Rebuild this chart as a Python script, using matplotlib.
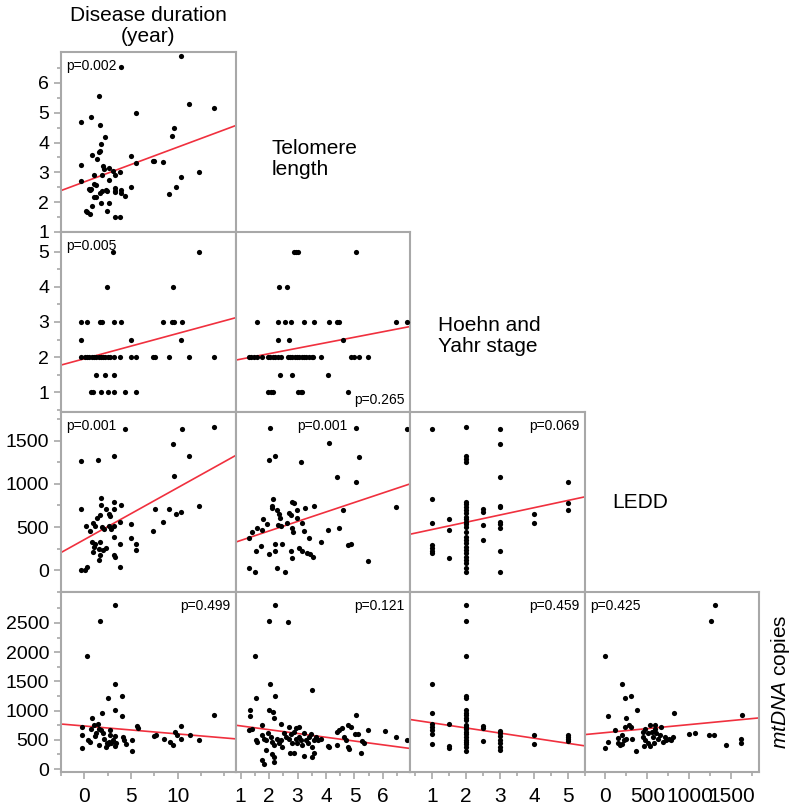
import numpy as np
import matplotlib.pyplot as plt

plt.rcParams['font.family'] = ['Liberation Sans', 'DejaVu Sans']
plt.rcParams['mathtext.fontset'] = 'custom'
plt.rcParams['mathtext.it'] = 'Liberation Sans:italic'
plt.rcParams['mathtext.rm'] = 'Liberation Sans'

# ---- data ----
# disease duration vs telomere length
dur_tel_x = [4.04, 10.4, 1.74, -0.2, 0.92, 1.8, 5.64, 11.3, 13.9, 9.65, 9.5, 2.4, 1.9, 1.7, 1.8,
             -0.2, 1.0, 1.5, 5.1, 5.7, 7.5, 7.6, 8.55, 12.3, 10.4, 9.9, 9.2, 2.2, 2.3, 2.8, 3.2,
             3.4, 4.0, 1.2, 2.0, 2.8, -0.2, 1.2, 1.4, 0.7, 0.85, 2.0, 2.5, 3.4, 3.4, 4.1, 5.1,
             0.75, 1.8, 2.6, 3.4, 4.1, 4.5, 1.2, 1.4, 1.95, 2.75, 0.95, 2.55, 0.35, 0.5, 0.8,
             3.4, 4.0]
dur_tel_y = [6.55, 6.92, 5.56, 4.70, 4.87, 4.59, 5.0, 5.28, 5.15, 4.5, 4.22, 4.2, 3.95, 3.7, 3.72,
             3.26, 3.57, 3.44, 3.55, 3.3, 3.37, 3.38, 3.36, 3.0, 2.86, 2.52, 2.27, 3.2, 3.1, 3.15, 3.05,
             2.9, 3.0, 2.92, 2.92, 2.75, 2.7, 2.6, 2.58, 2.45, 2.44, 2.37, 2.42, 2.47, 2.37, 2.4, 2.5,
             2.4, 2.3, 2.36, 2.33, 2.3, 2.2, 2.16, 2.17, 1.97, 1.97, 1.88, 1.71, 1.71, 1.66, 1.59,
             1.49, 1.49]

# disease duration vs Hoehn and Yahr
dur_hy_x = [3.2, 12.3, 2.6, 9.6, -0.2, 0.45, 1.8, 2.0, 3.3, 4.1, 8.55, 9.5, 9.7, 10.5,
            -0.2, 5.1, 10.4,
            -0.2, 0.2, 0.45, 0.7, 0.95, 1.2, 1.4, 1.7, 1.9, 2.2, 2.4, 2.7, 2.9, 3.3, 4.0, 5.1, 5.6,
            7.5, 7.7, 9.2, 11.3, 13.9,
            1.45, 2.4, 3.3,
            0.85, 1.1, 1.9, 2.7, 3.3, 4.5, 5.7]
dur_hy_y = [5, 5, 4, 4, 3, 3, 3, 3, 3, 3, 3, 3, 3, 3,
            2.5, 2.5, 2.5,
            2, 2, 2, 2, 2, 2, 2, 2, 2, 2, 2, 2, 2, 2, 2, 2, 2,
            2, 2, 2, 2, 2,
            1.5, 1.5, 1.5,
            1, 1, 1, 1, 1, 1, 1]

# telomere length vs Hoehn and Yahr
tel_hy_x = [2.86, 2.94, 3.02, 5.05, 2.35, 2.64,
            1.56, 2.31, 2.55, 2.78, 3.23, 3.58, 4.11, 4.38, 4.47, 6.46, 6.85,
            2.33, 2.71, 4.58,
            1.29, 1.38, 1.47, 1.56, 1.76, 1.96, 2.03, 2.12, 2.2, 2.31, 2.41, 2.67, 2.74, 2.82,
            2.9, 2.97, 3.05, 3.14, 3.23, 3.31, 3.4, 3.49, 3.56, 3.82, 4.87, 4.99, 5.17, 5.46,
            2.38, 2.8, 4.07,
            1.97, 2.06, 2.14, 3.03, 3.11, 3.17, 4.76]
tel_hy_y = [5, 5, 5, 5, 4, 4,
            3, 3, 3, 3, 3, 3, 3, 3, 3, 3, 3,
            2.5, 2.5, 2.5,
            2, 2, 2, 2, 2, 2, 2, 2, 2, 2, 2, 2, 2, 2,
            2, 2, 2, 2, 2, 2, 2, 2, 2, 2, 2, 2, 2, 2,
            1.5, 1.5, 1.5,
            1, 1, 1, 1, 1, 1, 1]

# disease duration vs LEDD
dur_ledd_x = [4.47, 10.5, 13.9, 9.54, -0.2, 1.63, 3.33, 11.3, 9.68, -0.2, 1.9, 1.9, 3.3, 4.1,
              2.5, 2.8, 2.85, 3.3, 1.85, 1.5, 1.1, 1.3, 0.4, 0.75, 2.0, 2.3, 2.8, 3.0, 3.3, 4.0,
              5.1, 7.65, 9.2, 10.4, 9.9, 8.55, 7.5, 12.3, 1.0, 1.3, 1.15, 1.1, 1.85, 1.7, 1.85,
              1.75, 2.1, 2.5, 3.3, 3.3, 3.4, 4.0, 5.1, 5.6, 5.7, 4.0, -0.2, 0.2, 0.5]
dur_ledd_y = [1636, 1636, 1651, 1465, 1262, 1281, 1327, 1319, 1091, 709, 835, 754, 793, 754,
              709, 650, 625, 709, 640, 610, 553, 515, 515, 457, 496, 473, 515, 477, 515, 557,
              534, 713, 713, 679, 648, 557, 457, 747, 324, 305, 267, 210, 331, 248, 172,
              115, 240, 255, 385, 183, 157, 305, 374, 305, 240, 38, 0, 0, 38]

# telomere length vs LEDD
tel_ledd_x = [2.03, 5.05, 6.85, 4.09, 2.0, 2.21, 3.11, 5.17, 4.38, 5.05, 6.46, 2.14, 2.09, 2.11,
              2.82, 2.88, 2.27, 2.35, 2.39, 2.7, 2.76, 2.99, 3.25, 3.58, 4.58, 1.8, 1.56, 1.41,
              1.76, 1.94, 2.31, 2.41, 2.62, 2.82, 2.85, 2.99, 3.17, 3.23, 3.41, 3.82, 4.07, 4.46,
              1.29, 1.73, 1.53, 2.0, 2.21, 2.44, 2.21, 2.76, 2.8, 3.05, 3.17, 3.32, 3.44, 3.55,
              4.76, 4.87, 5.46, 1.29, 1.49, 2.27, 2.55]
tel_ledd_y = [1644, 1652, 1636, 1472, 1282, 1327, 1263, 1320, 1091, 1026, 748, 835, 755, 729,
              797, 786, 710, 660, 614, 679, 652, 710, 729, 755, 710, 603, 507, 462,
              481, 546, 538, 527, 557, 500, 462, 614, 565, 473, 385, 340, 481, 507,
              385, 302, 240, 206, 317, 317, 240, 244, 164, 271, 240, 214, 206, 168,
              309, 317, 126, 42, 4, 42, 4]

# Hoehn and Yahr vs LEDD
hy_ledd_x = [1] * 7 + [1.5] * 3 + [2] * 26 + [2.5] * 4 + [3] * 10 + [4] * 2 + [5] * 3
hy_ledd_y = [1636, 836, 557, 309, 271, 244, 214,
             607, 481, 164,
             1655, 1327, 1293, 1263, 805, 778, 748, 710, 671, 633, 603, 576, 549, 519, 462,
             405, 366, 328, 290, 252, 214, 176, 137, 107, 42, 4,
             717, 690, 538, 366,
             1636, 1465, 1091, 759, 740, 576, 549, 507, 244, 4,
             660, 557,
             1026, 786, 710]

# disease duration vs mtDNA copies
dur_mt_x = [3.33, 1.63, 0.25, 3.33, 2.5, 4.04, 3.33, 4.04, 1.88, 0.85, 13.9, -0.2, 0.74, 1.03,
            1.46, 1.56, 1.2, 1.1, 1.81, 1.99, 2.7, 2.8, 2.16, 2.45, 3.05, 2.87, -0.2, 0.4, 0.57,
            1.56, 2.3, 2.5, 2.6, 3.4, 3.3, 3.3, 4.1, 4.2, 4.47, 5.1, 5.1, 5.64, 5.78, 7.48, 7.66,
            8.55, 9.2, 9.54, 9.68, 9.9, 10.4, 10.4, 11.3, 12.3, -0.2]
dur_mt_y = [2815, 2531, 1940, 1450, 1223, 1251, 1007, 904, 967, 876, 933, 722, 694, 751,
            768, 694, 609, 569, 665, 609, 677, 580, 523, 438, 495, 438, 580, 506, 466,
            410, 381, 421, 466, 449, 398, 563, 552, 506, 427, 495, 313, 734, 705, 563, 580,
            512, 466, 410, 637, 580, 734, 512, 580, 506, 353]

# telomere length vs mtDNA copies
tel_mt_x = [2.21, 2.0, 2.67, 1.49, 2.02, 1.54, 2.21, 3.52, 1.32, 1.32, 2.0, 2.14, 2.17, 1.39,
            1.74, 2.41, 2.7, 2.94, 3.05, 5.05, 4.76, 4.87, 4.38, 4.46, 4.56, 5.46, 6.08, 6.46,
            6.85, 1.53, 1.59, 1.76, 1.88, 1.96, 2.06, 2.11, 2.17, 2.29, 2.35, 2.41, 2.47, 2.53,
            2.58, 2.7, 2.76, 2.82, 2.88, 2.94, 2.99, 3.05, 3.11, 3.17, 3.23, 3.29, 3.35, 3.41,
            3.47, 3.52, 3.58, 3.64, 3.72, 3.82, 1.88, 2.11, 2.17, 2.73, 2.88, 3.21, 3.52, 3.58,
            1.74, 1.82, 2.17, 4.07, 4.11, 4.4, 4.64, 4.7, 4.76, 4.82, 5.01, 5.11, 5.22, 5.28,
            5.32, 1.29, 1.82]
tel_mt_y = [2815, 2531, 2525, 1940, 1456, 1223, 1251, 1359, 1007, 904, 1018, 973, 882, 688,
            751, 768, 722, 705, 722, 933, 751, 722, 637, 665, 705, 665, 648, 552,
            506, 506, 466, 580, 506, 609, 552, 466, 410, 523, 438, 495, 381, 609,
            552, 523, 597, 438, 637, 523, 438, 552, 495, 410, 609, 506, 438, 552,
            597, 381, 495, 552, 506, 523, 335, 256, 211, 279, 279, 227, 211, 267,
            154, 85, 125, 398, 381, 410, 552, 495, 381, 341, 597, 592, 267, 478,
            438, 677, 523]

# Hoehn and Yahr vs mtDNA copies
hy_mt_x = [1] * 7 + [1.5] * 3 + [2] * 21 + [2.5] * 3 + [3] * 7 + [4] * 2 + [5] * 4
hy_mt_y = [1456, 967, 779, 722, 665, 597, 427,
           768, 398, 364,
           2815, 2531, 1940, 1246, 1223, 1007, 961, 921, 882, 836, 751, 722, 682, 637, 597,
           552, 506, 461, 421, 381, 313,
           734, 705, 489,
           654, 609, 563, 506, 438, 381, 335,
           575, 421,
           586, 552, 512, 478]

# LEDD vs mtDNA copies
ledd_mt_x = [1306, 1259, 0, 193, 232, 302, 372, 813, 1624, 31, 240, 112, 232, 279, 302, 201,
             220, 155, 170, 193, 34, 0, 317, 368, 445, 472, 503, 530, 453, 472, 465, 511,
             550, 569, 589, 608, 589, 627, 647, 666, 686, 705, 724, 752, 783, 802, 996, 1065,
             1236, 1298, 1441, 1616, 1616, 530, 581, 155, 240]
ledd_mt_y = [2815, 2531, 1940, 1456, 1223, 1251, 1007, 967, 933, 904, 882, 665, 722, 751, 722, 580,
             495, 438, 410, 421, 466, 353, 523, 313, 637, 694, 609, 751, 552, 495, 398, 438,
             637, 552, 694, 609, 751, 523, 580, 722, 466, 552, 506, 523, 495, 552, 597, 625,
             580, 580, 410, 523, 438, 398, 438, 540, 523]

# fitted lines: (intercept, slope)
fit_lines = {
    (0, 0): (2.661, 0.1178),
    (1, 0): (1.938, 0.073),
    (1, 1): (1.782, 0.1566),
    (2, 0): (345, 60.6),
    (2, 1): (251, 108.8),
    (2, 2): (401, 83.6),
    (3, 0): (737, -13.57),
    (3, 1): (804, -64.9),
    (3, 2): (880, -88.1),
    (3, 3): (624, 0.1374),
}

p_values = {
    (0, 0): 'p=0.002', (1, 0): 'p=0.005', (1, 1): 'p=0.265',
    (2, 0): 'p=0.001', (2, 1): 'p=0.001', (2, 2): 'p=0.069',
    (3, 0): 'p=0.499', (3, 1): 'p=0.121', (3, 2): 'p=0.459', (3, 3): 'p=0.425',
}

panels = {
    (0, 0): (dur_tel_x, dur_tel_y),
    (1, 0): (dur_hy_x, dur_hy_y),
    (1, 1): (tel_hy_x, tel_hy_y),
    (2, 0): (dur_ledd_x, dur_ledd_y),
    (2, 1): (tel_ledd_x, tel_ledd_y),
    (2, 2): (hy_ledd_x, hy_ledd_y),
    (3, 0): (dur_mt_x, dur_mt_y),
    (3, 1): (tel_mt_x, tel_mt_y),
    (3, 2): (hy_mt_x, hy_mt_y),
    (3, 3): (ledd_mt_x, ledd_mt_y),
}

# ---- layout ----
W, H = 797, 810
xlims = [(-2.3, 16.2), (0.82, 6.95), (0.36, 5.47), (-230, 1830)]
ylims = [(1, 7.04), (0.43, 5.57), (-230, 1830), (-50, 3030)]
xmajor = [[0, 5, 10], [1, 2, 3, 4, 5, 6], [1, 2, 3, 4, 5], [0, 500, 1000, 1500]]
xminor = [np.arange(-2.5, 16, 2.5), np.arange(1, 7, 0.5), np.arange(0.5, 5.5, 0.5), np.arange(-250, 1800, 250)]
ymajor = [[1, 2, 3, 4, 5, 6], [1, 2, 3, 4, 5], [0, 500, 1000, 1500], [0, 500, 1000, 1500, 2000, 2500]]
yminor = [np.arange(1, 7, 0.5), np.arange(0.5, 5.5, 0.5), np.arange(-250, 1800, 250), np.arange(0, 3000, 250)]

col_left = [61, 235.5, 410, 584.5]
col_w = 174.5
row_top = [52, 232, 412, 592]
row_h = 180

p_pos = {
    (0, 0): (0.03, 0.96, 'left', 'top'),
    (1, 0): (0.03, 0.96, 'left', 'top'),
    (1, 1): (0.97, 0.03, 'right', 'bottom'),
    (2, 0): (0.03, 0.96, 'left', 'top'),
    (2, 1): (0.5, 0.96, 'center', 'top'),
    (2, 2): (0.97, 0.96, 'right', 'top'),
    (3, 0): (0.97, 0.96, 'right', 'top'),
    (3, 1): (0.97, 0.96, 'right', 'top'),
    (3, 2): (0.97, 0.96, 'right', 'top'),
    (3, 3): (0.03, 0.96, 'left', 'top'),
}

grey = '#a8a8a8'
fig = plt.figure(figsize=(W / 100, H / 100), dpi=100)

for (r, c), (xs, ys) in panels.items():
    ax = fig.add_axes([col_left[c] / W, 1 - (row_top[r] + row_h) / H, col_w / W, row_h / H])
    ax.scatter(xs, ys, s=14, color='black', linewidths=0, zorder=3)
    b0, b1 = fit_lines[(r, c)]
    xx = np.array(xlims[c])
    ax.plot(xx, b0 + b1 * xx, color='#f0303e', lw=1.2, zorder=2)
    ax.set_xlim(*xlims[c])
    ax.set_ylim(*ylims[r])
    for s in ax.spines.values():
        s.set_color(grey)
        s.set_linewidth(1.5)
    px, py, ha, va = p_pos[(r, c)]
    ax.text(px, py, p_values[(r, c)], transform=ax.transAxes, ha=ha, va=va, fontsize=10)

    if c == 0:
        ax.set_yticks(ymajor[r])
        ax.set_yticks(yminor[r], minor=True)
        ax.tick_params(axis='y', which='both', colors=grey, labelcolor='black', labelsize=14, width=1.2)
        ax.tick_params(axis='y', which='major', length=5)
        ax.tick_params(axis='y', which='minor', length=3)
    else:
        ax.set_yticks([])
    if r == 3:
        ax.set_xticks(xmajor[c])
        ax.set_xticks(xminor[c], minor=True)
        ax.tick_params(axis='x', which='both', colors=grey, labelcolor='black', labelsize=15, width=1.2, pad=6)
        ax.tick_params(axis='x', which='major', length=5)
        ax.tick_params(axis='x', which='minor', length=3)
    else:
        ax.set_xticks([])

# variable names
fig.text(148 / W, 1 - 26 / H, 'Disease duration\n(year)', ha='center', va='center', fontsize=15, linespacing=1.1)
fig.text(272 / W, 1 - 159 / H, 'Telomere\nlength', ha='left', va='center', fontsize=15, linespacing=1.1)
fig.text(438 / W, 1 - 336 / H, 'Hoehn and\nYahr stage', ha='left', va='center', fontsize=15, linespacing=1.1)
fig.text(612 / W, 1 - 503 / H, 'LEDD', ha='left', va='center', fontsize=15)
fig.text(781 / W, 1 - 682 / H, r'$\mathit{mtDNA}$ copies', ha='center', va='center', fontsize=15, rotation=90)

fig.savefig('out.png', dpi=100)
